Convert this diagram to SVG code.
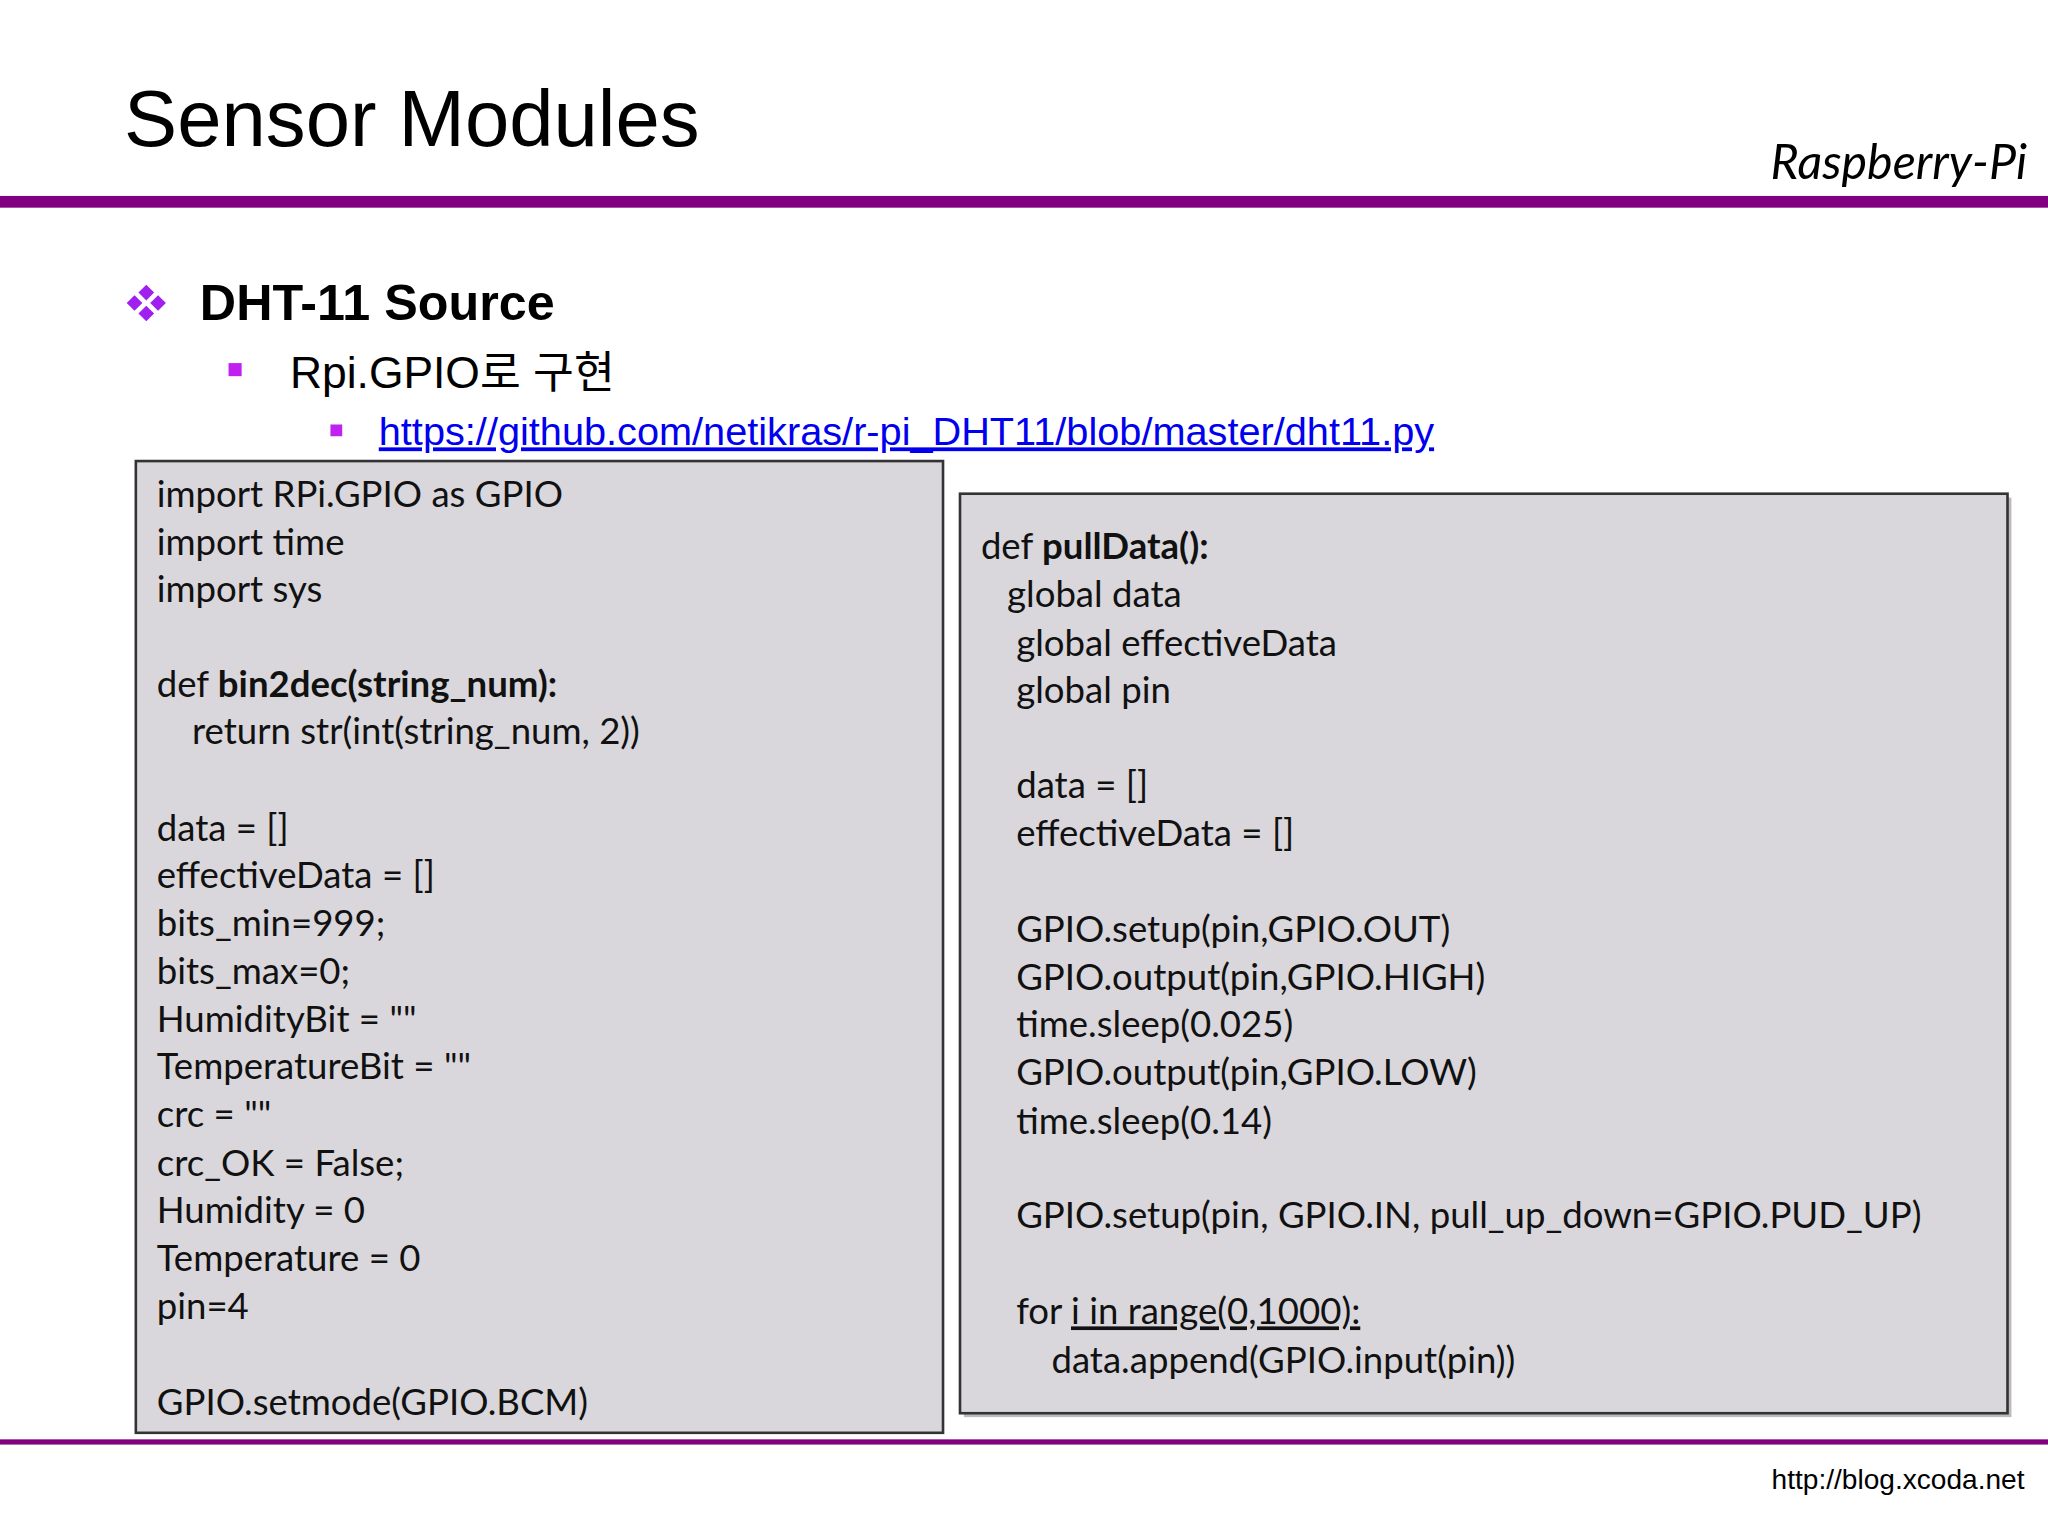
<svg xmlns="http://www.w3.org/2000/svg" width="2048" height="1536" viewBox="0 0 2048 1536">
<style>
.code{font-family:Lato,"Open Sans",sans-serif;font-size:28px;fill:#111}
.b{font-weight:bold}
</style>
<rect width="2048" height="1536" fill="#fff"/>
<g transform="scale(1.30612)">
<g id="header">
<text x="95" y="112" font-family="Liberation Sans,sans-serif" font-size="61" fill="#000">Sensor Modules</text>
<text x="1552" y="137" text-anchor="end" font-family="Lato,sans-serif" font-style="italic" font-size="37" fill="#000">Raspberry-Pi</text>
<rect x="0" y="150" width="1568" height="9" fill="#800080"/>
</g>
<g id="bullets">
<g fill="#a020f0">
<path d="M112 218 l6 6 -6 6 -6 -6z"/><path d="M112 234 l6 6 -6 6 -6 -6z"/>
<path d="M103 226 l6 6 -6 6 -6 -6z"/><path d="M121 226 l6 6 -6 6 -6 -6z"/>
</g>
<text x="153" y="245" font-family="Liberation Sans,sans-serif" font-weight="bold" font-size="38.5" fill="#000">DHT-11 Source</text>
<rect x="175" y="278" width="10" height="10" fill="#c020f0"/>
<text x="222" y="297" font-family="Liberation Sans,'Noto Sans CJK KR',sans-serif" font-size="34" fill="#000">Rpi.GPIO로 구현</text>
<rect x="253" y="325" width="9" height="9" fill="#c020f0"/>
<text x="290" y="341" font-family="Liberation Sans,sans-serif" font-size="29" textLength="808" lengthAdjust="spacingAndGlyphs" fill="#0000ee" text-decoration="underline">https://github.com/netikras/r-pi_DHT11/blob/master/dht11.py</text>
</g>
<g id="left-code">
<rect x="104" y="353" width="618" height="744" fill="#d9d7dc" stroke="#333" stroke-width="2"/>
<text class="code" x="120" y="388">import RPi.GPIO as GPIO</text>
<text class="code" x="120" y="425">import time</text>
<text class="code" x="120" y="461">import sys</text>
<text class="code" x="120" y="534">def <tspan class="b">bin2dec(string_num):</tspan></text>
<text class="code" x="147" y="570">return str(int(string_num, 2))</text>
<text class="code" x="120" y="644">data = []</text>
<text class="code" x="120" y="680">effectiveData = []</text>
<text class="code" x="120" y="717">bits_min=999;</text>
<text class="code" x="120" y="753">bits_max=0;</text>
<text class="code" x="120" y="790">HumidityBit = ""</text>
<text class="code" x="120" y="826">TemperatureBit = ""</text>
<text class="code" x="120" y="863">crc = ""</text>
<text class="code" x="120" y="900">crc_OK = False;</text>
<text class="code" x="120" y="936">Humidity = 0</text>
<text class="code" x="120" y="973">Temperature = 0</text>
<text class="code" x="120" y="1010">pin=4</text>
<text class="code" x="120" y="1083">GPIO.setmode(GPIO.BCM)</text>
</g>
<g id="right-code">
<rect x="738" y="381" width="802" height="704" fill="#bbb"/>
<rect x="735" y="378" width="802" height="704" fill="#d9d7dc" stroke="#333" stroke-width="2"/>
<text class="code" x="751" y="428">def <tspan class="b">pullData():</tspan></text>
<text class="code" x="771" y="465">global data</text>
<text class="code" x="778" y="502">global effectiveData</text>
<text class="code" x="778" y="538">global pin</text>
<text class="code" x="778" y="611">data = []</text>
<text class="code" x="778" y="648">effectiveData = []</text>
<text class="code" x="778" y="721">GPIO.setup(pin,GPIO.OUT)</text>
<text class="code" x="778" y="758">GPIO.output(pin,GPIO.HIGH)</text>
<text class="code" x="778" y="794">time.sleep(0.025)</text>
<text class="code" x="778" y="831">GPIO.output(pin,GPIO.LOW)</text>
<text class="code" x="778" y="868">time.sleep(0.14)</text>
<text class="code" x="778" y="940">GPIO.setup(pin, GPIO.IN, pull_up_down=GPIO.PUD_UP)</text>
<text class="code" x="778" y="1014">for <tspan text-decoration="underline">i in range(0,1000):</tspan></text>
<text class="code" x="805" y="1051">data.append(GPIO.input(pin))</text>
</g>
<g id="footer">
<rect x="0" y="1102" width="1568" height="4" fill="#800080"/>
<text x="1550" y="1140" text-anchor="end" font-family="Liberation Sans,sans-serif" font-size="21.5" fill="#000">http://blog.xcoda.net</text>
</g>
</g>
</svg>
